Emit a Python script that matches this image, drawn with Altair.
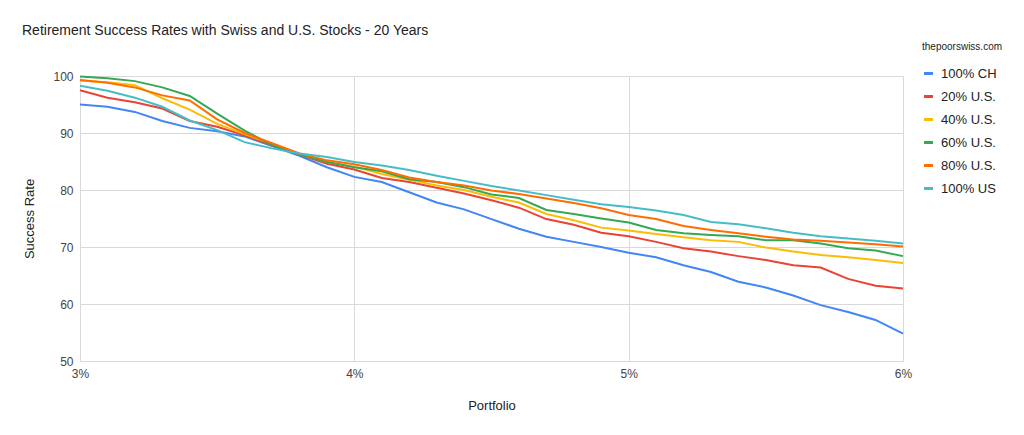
import altair as alt
import pandas as pd

rates = [3.0, 3.1, 3.2, 3.3, 3.4, 3.5, 3.6, 3.7, 3.8, 3.9, 4.0, 4.1, 4.2, 4.3, 4.4, 4.5,
         4.6, 4.7, 4.8, 4.9, 5.0, 5.1, 5.2, 5.3, 5.4, 5.5, 5.6, 5.7, 5.8, 5.9, 6.0]

ch100 = [95.0, 94.6, 93.7, 92.1, 90.9, 90.3, 89.4, 87.7, 86.0, 84.0, 82.3, 81.4, 79.6, 77.8, 76.6, 74.9,
         73.2, 71.8, 70.9, 70.0, 69.0, 68.2, 66.8, 65.6, 63.9, 62.9, 61.5, 59.8, 58.6, 57.2, 54.8]
us20 = [97.5, 96.2, 95.4, 94.3, 92.1, 91.1, 89.6, 87.9, 86.2, 84.6, 83.6, 82.1, 81.4, 80.4, 79.4, 78.2,
        76.9, 74.9, 73.9, 72.5, 71.9, 70.9, 69.8, 69.2, 68.4, 67.7, 66.8, 66.4, 64.4, 63.2, 62.7]
us40 = [99.2, 98.9, 98.4, 96.1, 94.1, 91.6, 89.8, 88.1, 86.3, 84.9, 84.1, 82.8, 81.8, 80.8, 80.0, 78.8,
        77.8, 75.8, 74.7, 73.4, 72.9, 72.3, 71.7, 71.2, 70.9, 69.9, 69.2, 68.6, 68.2, 67.7, 67.2]
us60 = [99.9, 99.6, 99.1, 98.0, 96.5, 93.4, 90.4, 87.9, 86.2, 84.9, 84.0, 83.3, 81.9, 81.4, 80.5, 79.2,
        78.6, 76.5, 75.8, 75.0, 74.3, 73.0, 72.4, 72.1, 71.9, 71.2, 71.2, 70.6, 69.8, 69.4, 68.4]
us80 = [99.3, 98.8, 98.0, 96.6, 95.7, 92.4, 90.0, 88.2, 86.4, 85.2, 84.5, 83.5, 82.2, 81.4, 80.8, 79.9,
        79.3, 78.5, 77.7, 76.8, 75.6, 74.9, 73.7, 73.0, 72.4, 71.8, 71.3, 71.1, 70.8, 70.5, 70.1]
us100 = [98.3, 97.4, 96.2, 94.6, 92.2, 90.5, 88.4, 87.3, 86.4, 85.8, 84.9, 84.3, 83.5, 82.5, 81.6, 80.7,
         79.9, 79.1, 78.3, 77.5, 77.0, 76.4, 75.6, 74.4, 74.0, 73.3, 72.5, 71.9, 71.5, 71.1, 70.6]

series_names = ["100% CH", "20% U.S.", "40% U.S.", "60% U.S.", "80% U.S.", "100% US"]
series_values = [ch100, us20, us40, us60, us80, us100]
colors = ["#4285F4", "#EA4335", "#FBBC04", "#34A853", "#FF6D01", "#46BDC6"]

rows = []
for name, vals in zip(series_names, series_values):
    for r, v in zip(rates, vals):
        rows.append({"Portfolio": r / 100.0, "Success Rate": v, "Series": name})
df = pd.DataFrame(rows)

FONT = "Liberation Sans"

chart = alt.Chart(df).mark_line(strokeWidth=2).encode(
    x=alt.X("Portfolio:Q",
            scale=alt.Scale(domain=[0.03, 0.06], nice=False),
            axis=alt.Axis(values=[0.03, 0.04, 0.05, 0.06], format=".0%", title="Portfolio",
                          labelPadding=7, titlePadding=20, labelFlush=False)),
    y=alt.Y("Success Rate:Q",
            scale=alt.Scale(domain=[50, 100], nice=False),
            axis=alt.Axis(values=[50, 60, 70, 80, 90, 100], title="Success Rate",
                          labelPadding=7, titlePadding=16)),
    color=alt.Color("Series:N",
                    sort=series_names,
                    scale=alt.Scale(domain=series_names, range=colors),
                    legend=alt.Legend(title="thepoorswiss.com", orient="none",
                                      legendX=842, legendY=-34,
                                      symbolType="stroke", symbolStrokeWidth=3,
                                      symbolSize=80, labelFontSize=13, labelColor="#222222",
                                      titleFontSize=10, titleFontWeight="normal",
                                      titleColor="#222222", titlePadding=15,
                                      rowPadding=9, labelOffset=6)),
).properties(
    width=823,
    height=285,
    autosize=alt.AutoSizeParams(type="none"),
    padding={"left": 72, "top": 68, "right": 113, "bottom": 66},
    title=alt.TitleParams("Retirement Success Rates with Swiss and U.S. Stocks - 20 Years",
                          anchor="start", frame="group", dx=-58, offset=4,
                          fontSize=14, fontWeight="normal", color="#222222", font=FONT),
).configure_axis(
    labelFont=FONT, titleFont=FONT, labelFontSize=12, titleFontSize=13,
    labelColor="#444444", titleColor="#222222", titleFontWeight="normal",
    gridColor="#d9d9d9", domain=False, ticks=False,
).configure_legend(
    labelFont=FONT, titleFont=FONT,
).configure_view(
    stroke=None,
)

chart.save("out.html", embed_options={"renderer": "svg", "actions": False})
